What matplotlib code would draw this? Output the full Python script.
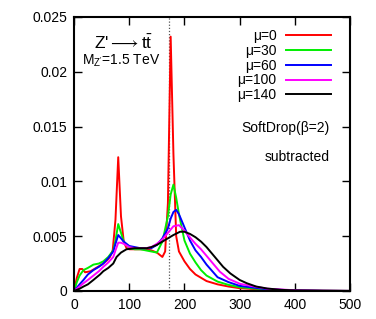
import matplotlib
matplotlib.use("Agg")
import matplotlib.pyplot as plt

plt.rcParams['font.family'] = ['Liberation Sans', 'DejaVu Sans']
plt.rcParams['mathtext.fontset'] = 'custom'
plt.rcParams['mathtext.rm'] = 'Liberation Sans'
plt.rcParams['mathtext.it'] = 'Liberation Sans:italic'

# mass distributions (x in GeV, y = 1/N dN/dm)
x_mu0 = [0, 5, 10, 15, 20, 30, 40, 50, 60, 65, 70, 75, 80, 85, 90, 95, 100, 110, 120, 130, 140, 150,
         155, 160, 165, 170, 175, 180, 185, 190, 200, 210, 220, 230, 240, 260, 280, 300, 350, 400, 450, 500]
y_mu0 = [0, 0.0012, 0.0020, 0.0020, 0.0017, 0.0018, 0.0021, 0.0024, 0.0028, 0.0031, 0.0037, 0.0065,
         0.0122, 0.0068, 0.0045, 0.0039, 0.0038, 0.0038, 0.0038, 0.0038, 0.0037, 0.0035,
         0.0033, 0.0031, 0.0036, 0.0080, 0.0232, 0.0125, 0.0050, 0.0036, 0.0027, 0.0020, 0.0015, 0.0012,
         0.0009, 0.0006, 0.0004, 0.00025, 0.0001, 0.00003, 0.00001, 0]

x_mu30 = [0, 5, 10, 17, 25, 35, 45, 53, 62, 71, 75, 80, 85, 90, 100, 110, 120, 130, 140, 150, 160,
          170, 175, 180, 185, 190, 200, 210, 220, 230, 240, 260, 280, 300, 350, 400, 450, 500]
y_mu30 = [0, 0.0008, 0.0014, 0.0019, 0.0021, 0.0024, 0.0025, 0.0027, 0.0031, 0.0037, 0.0046, 0.0061,
          0.0053, 0.0045, 0.0039, 0.0038, 0.0038, 0.0037, 0.0036, 0.0035, 0.0045, 0.0068, 0.0088,
          0.0097, 0.0085, 0.0070, 0.0046, 0.0034, 0.0026, 0.0019, 0.0014, 0.00085, 0.00055, 0.00034,
          0.00012, 0.00004, 0.00001, 0]

x_mu60 = [0, 5, 10, 17, 25, 35, 45, 53, 62, 71, 75, 80, 85, 90, 100, 110, 120, 130, 140, 150, 160,
          170, 175, 180, 185, 190, 200, 210, 220, 230, 240, 260, 280, 300, 350, 400, 450, 500]
y_mu60 = [0, 0.0003, 0.0006, 0.0010, 0.0015, 0.0019, 0.0022, 0.0025, 0.0030, 0.0036, 0.0043, 0.0051,
          0.0048, 0.0045, 0.0041, 0.0040, 0.0039, 0.0039, 0.0039, 0.0042, 0.0048, 0.0057, 0.0066,
          0.0072, 0.0074, 0.0070, 0.0058, 0.0046, 0.0037, 0.0031, 0.0024, 0.00125, 0.0008, 0.00046,
          0.00015, 0.00005, 0.00001, 0]

x_mu100 = [0, 5, 10, 17, 25, 35, 45, 53, 62, 71, 75, 80, 85, 90, 100, 110, 120, 130, 140, 150, 160,
           170, 180, 190, 200, 213, 220, 230, 240, 264, 280, 301, 350, 400, 450, 500]
y_mu100 = [0, 0.0002, 0.0004, 0.0007, 0.0010, 0.0014, 0.0018, 0.0022, 0.0026, 0.0031, 0.0037, 0.0044,
           0.0044, 0.0043, 0.0040, 0.0039, 0.0039, 0.0039, 0.0040, 0.0043, 0.0047, 0.0053, 0.0059,
           0.0060, 0.0055, 0.0047, 0.0043, 0.0038, 0.0032, 0.00176, 0.0011, 0.00064, 0.0002, 0.00006,
           0.00002, 0]

x_mu140 = [0, 10, 17, 25, 35, 47, 53, 62, 71, 77, 85, 95, 110, 120, 132, 140, 150, 160, 170, 180,
           192, 200, 210, 220, 230, 240, 250, 260, 270, 283, 300, 313, 330, 350, 375, 400, 450, 500]
y_mu140 = [0, 0.0002, 0.0004, 0.0006, 0.0010, 0.0015, 0.0018, 0.0021, 0.0025, 0.0031, 0.0035, 0.0038,
           0.0039, 0.0039, 0.0039, 0.0040, 0.0042, 0.0045, 0.0048, 0.0051, 0.0054, 0.0054, 0.0052,
           0.0049, 0.0045, 0.0040, 0.0034, 0.0028, 0.0022, 0.0016, 0.0010, 0.0007, 0.0004, 0.00022,
           0.0001, 0.00005, 0.00002, 0]

labels = ['μ=0', 'μ=30', 'μ=60', 'μ=100', 'μ=140']
colors = ['#ff0000', '#00ee00', '#0000ff', '#ff00ff', '#000000']
m_top = 172

fig = plt.figure(figsize=(3.76, 3.19), dpi=100)
ax = fig.add_axes([0.197, 0.088, 0.734, 0.859])

series = [(x_mu0, y_mu0), (x_mu30, y_mu30), (x_mu60, y_mu60), (x_mu100, y_mu100), (x_mu140, y_mu140)]
for (xs, ys), lab, c in zip(series, labels, colors):
    ax.plot(xs, ys, color=c, lw=1.4, label=lab)

ax.axvline(m_top, color='#555555', lw=0.9, ls=(0, (1, 1.5)), zorder=0)

ax.set_xlim(0, 500)
ax.set_ylim(0, 0.025)
ax.set_xticks([0, 100, 200, 300, 400, 500])
ax.set_yticks([0, 0.005, 0.01, 0.015, 0.02, 0.025])
ax.set_yticklabels(['0', '0.005', '0.01', '0.015', '0.02', '0.025'])
ax.tick_params(direction='in', length=5.5, width=1, top=True, right=True, labelsize=10, pad=5)
for s in ax.spines.values():
    s.set_linewidth(1.5)

leg = ax.legend(loc='upper right', bbox_to_anchor=(0.96, 0.985), frameon=False, fontsize=10,
                markerfirst=False, handlelength=3.2, handletextpad=0.7, labelspacing=0.05,
                borderaxespad=0.2)
for t in leg.get_texts():
    t.set_ha('right')

ax.text(0.072, 0.905, "Z'$\\longrightarrow$t$\\bar{\\rm t}$", transform=ax.transAxes, fontsize=12.5, va='center')
ax.text(0.029, 0.84, "M$_{\\rm Z'}$=1.5 TeV", transform=ax.transAxes, fontsize=10, va='center')
ax.text(0.925, 0.595, 'SoftDrop(β=2)', transform=ax.transAxes, fontsize=10, ha='right', va='center')
ax.text(0.925, 0.49, 'subtracted', transform=ax.transAxes, fontsize=10, ha='right', va='center')

fig.savefig('out.png', dpi=100)
